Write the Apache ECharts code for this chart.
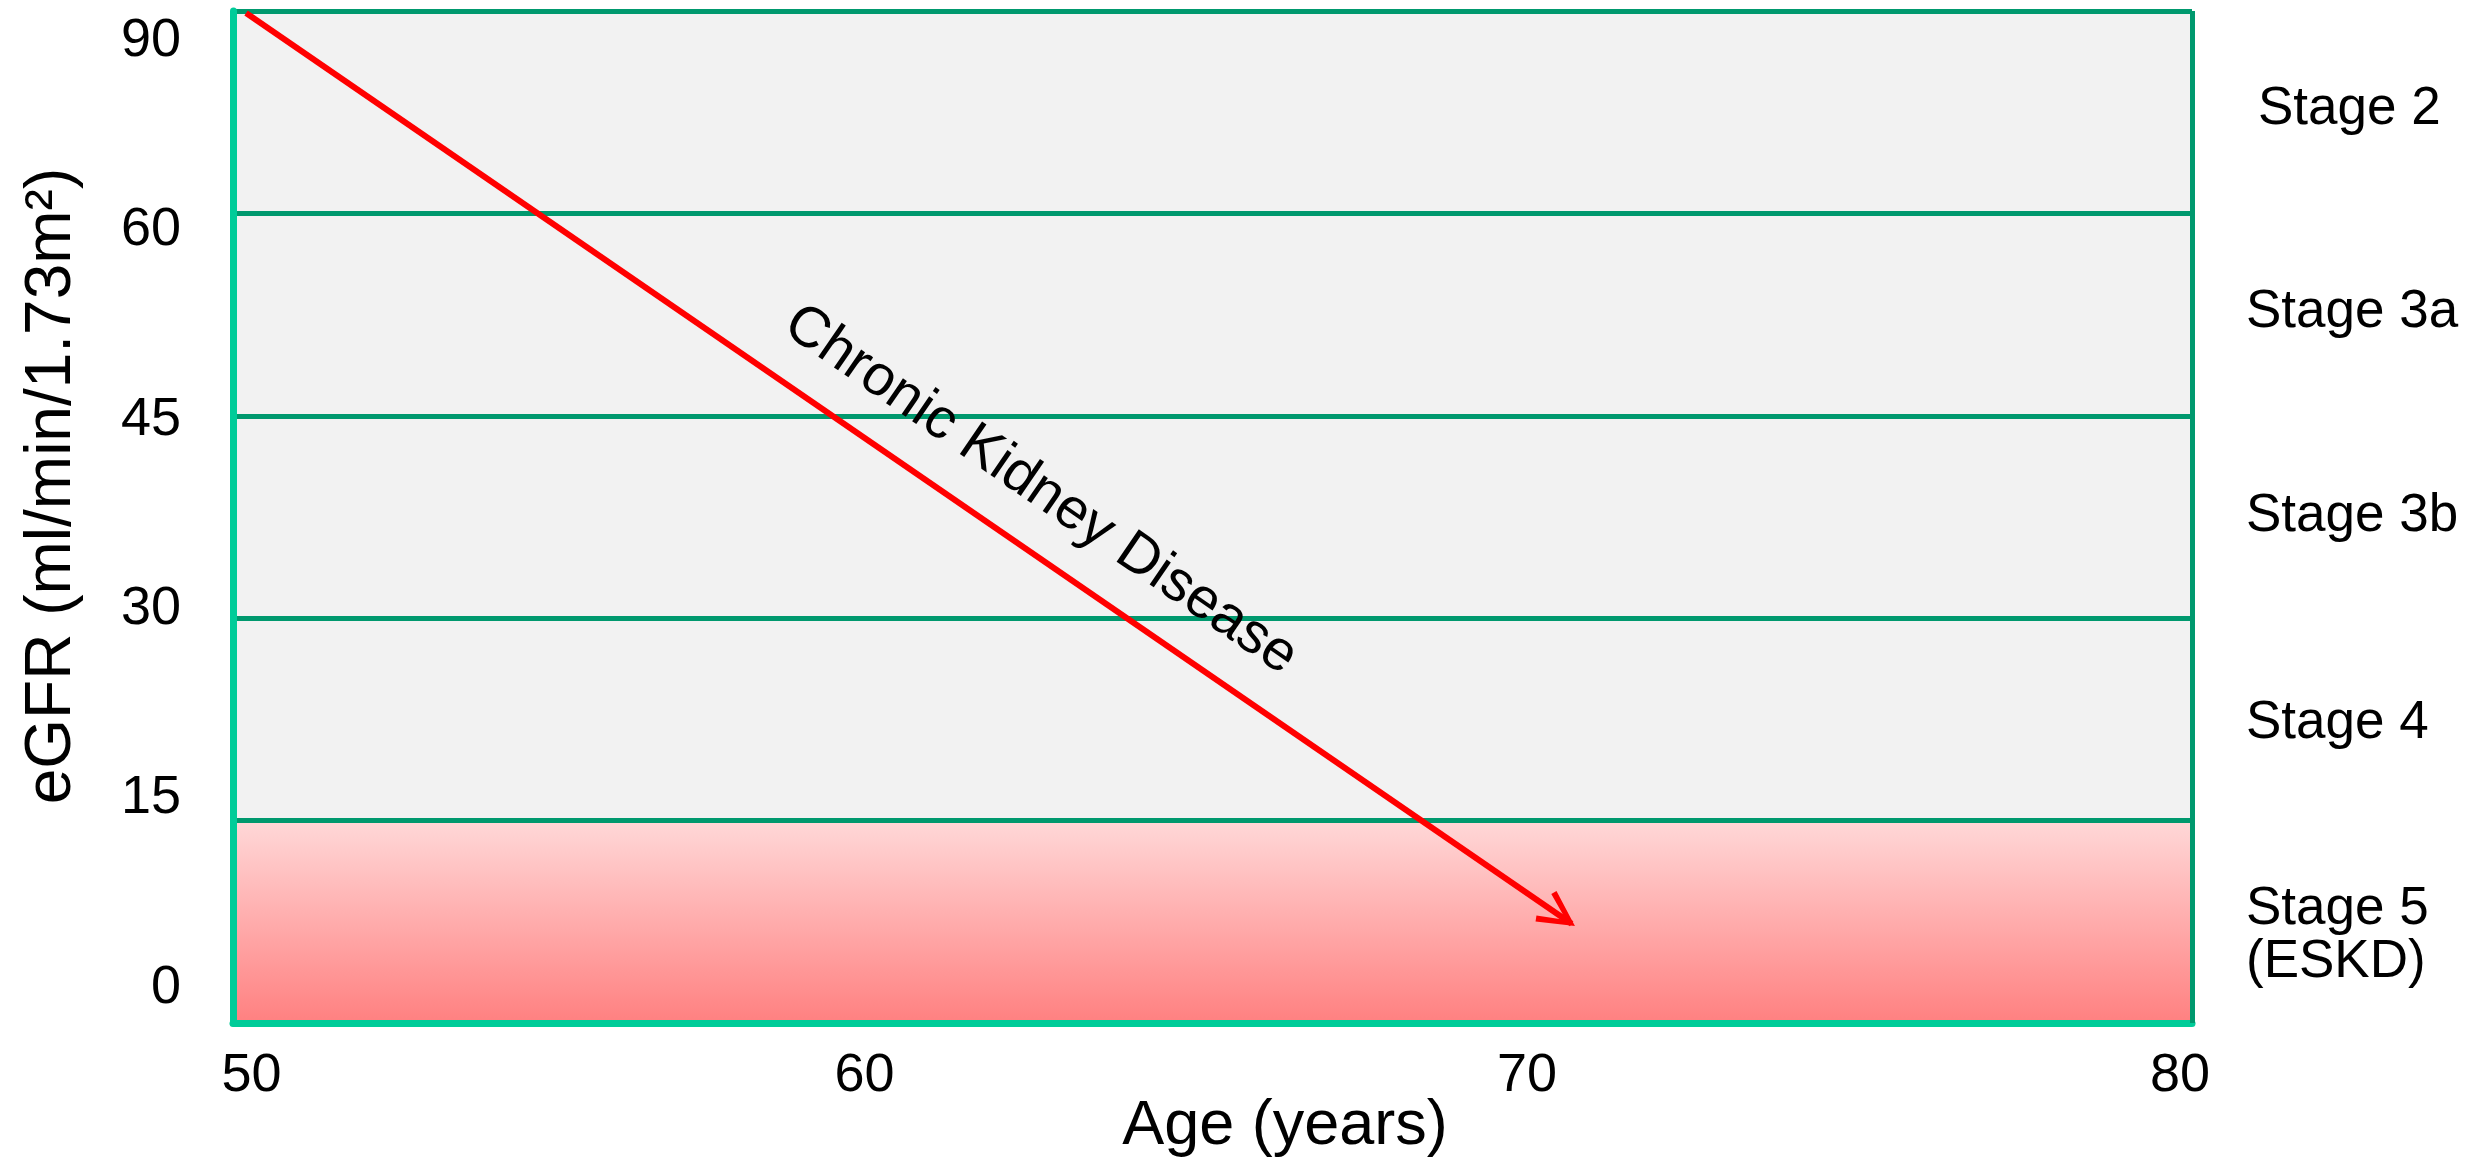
<!DOCTYPE html>
<html>
<head>
<meta charset="utf-8">
<script src="https://cdn.jsdelivr.net/npm/echarts@6/dist/echarts.min.js"></script>
<style>
  html, body { margin: 0; padding: 0; background: #ffffff; }
  #chart { width: 2481px; height: 1160px; }
</style>
</head>
<body>
<div id="chart"></div>
<script>
// Age axis ticks (years)
const ageTicks = [50, 60, 70, 80];
// eGFR stage boundaries (ml/min/1.73m²), bottom to top; every stage gets an equal band
const egfrBoundaries = ['0', '15', '30', '45', '60', '90'];
// Stage names, bottom band to top band
const stageNames = ['Stage 5\n(ESKD)', 'Stage 4', 'Stage 3b', 'Stage 3a', 'Stage 2'];
// Disease trajectory as [age, band position]; band position 0..5 runs up through the stage bands
const ckdPathStart = [50.2, 4.99];
const ckdPathEnd = [70.5, 0.49];
// Kidney-failure band (stage 5) in band positions
const eskdBand = [0, 1];

const FONT = '"Liberation Sans", Arial, Helvetica, sans-serif';
const AXIS_GREEN = '#00CC99';
const LINE_GREEN = '#00996E';

// small horizontal nudges for the age labels
const ageLabelPadding = { 50: [0, 0, 0, 37], 60: [0, 43, 0, 0], 70: [0, 24, 0, 0], 80: [0, 24, 0, 0] };
const ageRich = {};
ageTicks.forEach(a => {
  ageRich['a' + a] = { fontSize: 54, fontFamily: FONT, color: '#000', padding: ageLabelPadding[a] };
});

// per-stage label padding (the two-line stage 5 label sits a little lower)
const stageLabelPadding = [[28, 0, 0, 0], [7, 0, 0, 0], [0, 0, 2, 0], [0, 0, 4, 0], [0, 0, 6, 12]];
const stageAxisData = stageNames.map((name, i) => ({ value: name, textStyle: { padding: stageLabelPadding[i] } }));

// open arrow head pointing up, tip at (0,0); the two empty sub-paths keep the tip at the symbol centre
const chevron = 'path://M-33.7 -33.7 L-33.7 -33.7 Z M33.7 33.7 L33.7 33.7 Z ' +
  'M0 -4 L18.5 31.1 L13.1 33.7 L0 6.8 L-13.1 33.7 L-18.5 31.1 Z';

const chart = echarts.init(document.getElementById('chart'), null, { renderer: 'canvas' });

const option = {
  animation: false,
  backgroundColor: '#ffffff',
  textStyle: { fontFamily: FONT },
  grid: [
    { left: 233, right: 289, top: 11, bottom: 137, outerBoundsMode: 'none', containLabel: false,
      show: true, backgroundColor: '#F2F2F2', borderWidth: 0 },
    { left: 233, right: 289, top: 41, bottom: 172, outerBoundsMode: 'none', containLabel: false, show: false }
  ],
  xAxis: [
    {
      type: 'value', gridIndex: 0, min: ageTicks[0], max: ageTicks[ageTicks.length - 1], interval: 10, z: 3,
      axisLine: { show: true, onZero: false, lineStyle: { color: AXIS_GREEN, width: 7 } },
      axisTick: { show: false },
      splitLine: { show: false },
      axisLabel: { margin: 26, formatter: v => '{a' + v + '|' + v + '}', rich: ageRich },
      name: 'Age (years)', nameLocation: 'middle', nameGap: 72, nameMoveOverlap: false,
      nameTextStyle: { fontSize: 63, lineHeight: 63, color: '#000', fontFamily: FONT, padding: [0, 0, 0, 145] }
    },
    { type: 'value', gridIndex: 1, min: ageTicks[0], max: ageTicks[ageTicks.length - 1], show: false }
  ],
  yAxis: [
    {
      type: 'value', gridIndex: 0, min: 0, max: stageNames.length, interval: 1, z: 3,
      axisLine: { show: true, onZero: false, lineStyle: { color: AXIS_GREEN, width: 7 } },
      axisTick: { show: false },
      axisLabel: { show: false },
      splitLine: { show: true, showMinLine: false, lineStyle: { color: LINE_GREEN, width: 5 } },
      name: 'eGFR (ml/min/1.73m²)', nameLocation: 'middle', nameRotate: 90, nameGap: 149, nameMoveOverlap: false,
      nameTextStyle: { fontSize: 64, lineHeight: 64, color: '#000', fontFamily: FONT, padding: [0, 0, 0, 62] }
    },
    {
      type: 'category', gridIndex: 0, position: 'right', data: stageAxisData, boundaryGap: true,
      axisLine: { show: false }, axisTick: { show: false }, splitLine: { show: false },
      axisLabel: {
        interval: 0, margin: 54, fontSize: 53, lineHeight: 53, color: '#000', fontFamily: FONT, align: 'left',
        rich: { stage: { fontSize: 53, lineHeight: 53, color: '#000', fontFamily: FONT } }
      }
    },
    {
      type: 'category', gridIndex: 1, data: egfrBoundaries, boundaryGap: false,
      axisLine: { show: false }, axisTick: { show: false }, splitLine: { show: false },
      axisLabel: { interval: 0, margin: 52, fontSize: 54, color: '#000', fontFamily: FONT }
    }
  ],
  series: [
    {
      name: 'ESKD band', type: 'line', xAxisIndex: 0, yAxisIndex: 0, data: [], z: 1, silent: true,
      markArea: {
        silent: true,
        itemStyle: {
          opacity: 1,
          color: {
            type: 'linear', x: 0, y: 0, x2: 0, y2: 1,
            colorStops: [{ offset: 0, color: '#FFD8D8' }, { offset: 1, color: '#FF8080' }]
          }
        },
        data: [[
          { xAxis: ageTicks[0], yAxis: eskdBand[0] },
          { xAxis: ageTicks[ageTicks.length - 1], yAxis: eskdBand[1] }
        ]]
      }
    },
    {
      name: 'Right edge', type: 'line', xAxisIndex: 0, yAxisIndex: 0, data: [], z: 4, silent: true,
      markLine: {
        silent: true, symbol: 'none', label: { show: false },
        lineStyle: { color: LINE_GREEN, width: 5, type: 'solid' },
        data: [{ xAxis: ageTicks[ageTicks.length - 1] }]
      }
    },
    {
      name: 'Chronic Kidney Disease', type: 'line', xAxisIndex: 0, yAxisIndex: 0, data: [], z: 5, silent: true,
      markLine: {
        silent: true,
        symbol: ['none', chevron],
        symbolSize: 67.4,
        lineStyle: { color: '#FF0000', width: 6, type: 'solid' },
        label: {
          show: true, position: 'insideMiddleTop', formatter: 'Chronic Kidney Disease',
          fontSize: 57, color: '#000', fontFamily: FONT, distance: 28, padding: [0, 0, 0, 242]
        },
        data: [[{ coord: ckdPathStart }, { coord: ckdPathEnd }]]
      }
    }
  ]
};

chart.setOption(option);
</script>
</body>
</html>
